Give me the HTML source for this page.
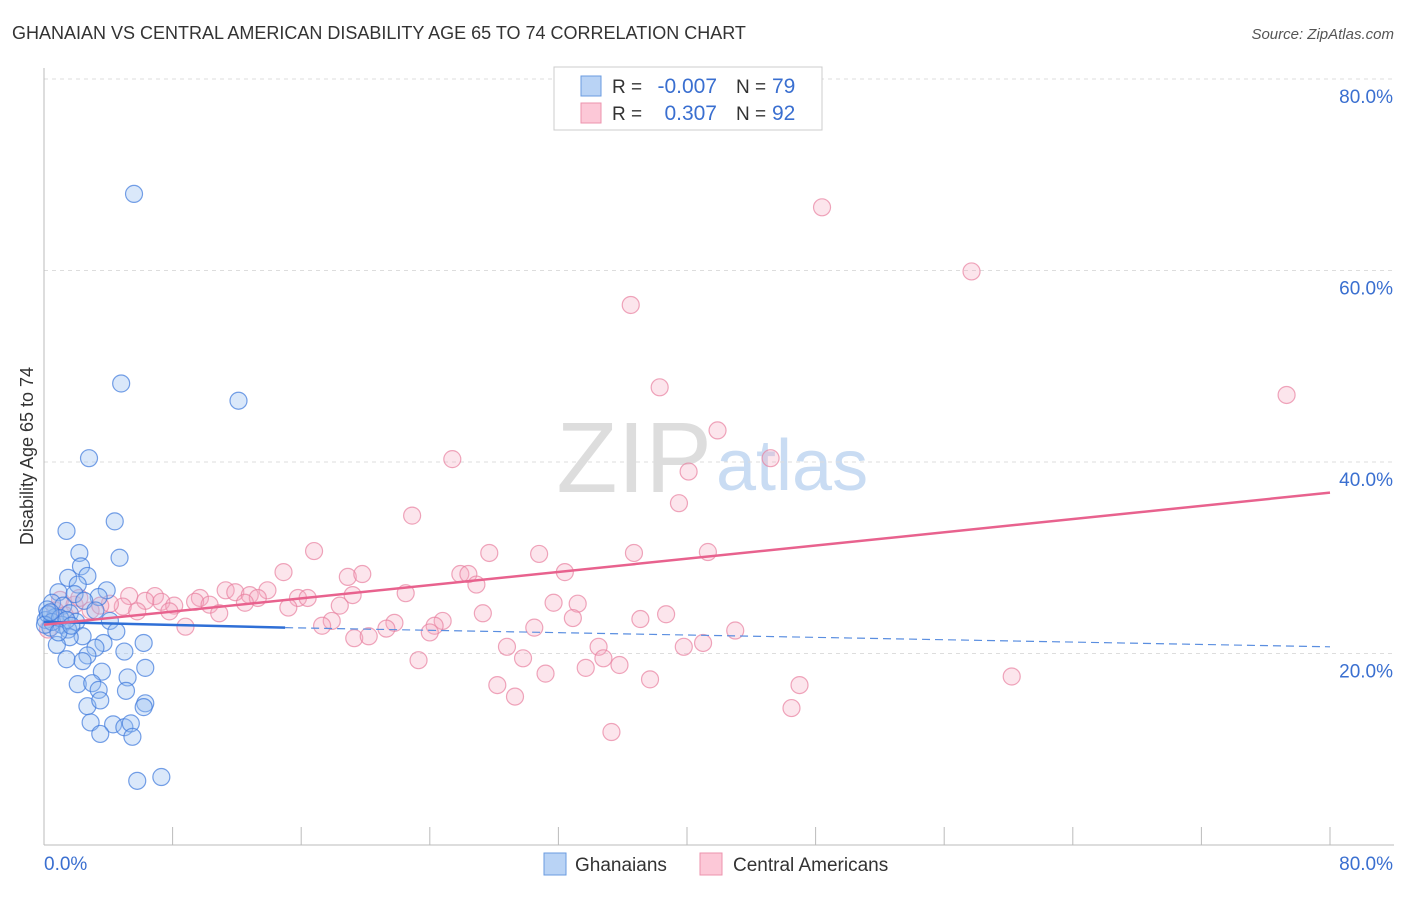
<!DOCTYPE html>
<html><head><meta charset="utf-8"><style>
body{margin:0;background:#fff;font-family:"Liberation Sans",sans-serif}
svg text{font-family:"Liberation Sans",sans-serif}
</style></head><body>
<svg id="chart" width="1406" height="892" xmlns="http://www.w3.org/2000/svg">
<text x="12" y="39" font-size="18" fill="#333">GHANAIAN VS CENTRAL AMERICAN DISABILITY AGE 65 TO 74 CORRELATION CHART</text>
<text x="1394" y="39" font-size="15" fill="#555" font-style="italic" text-anchor="end">Source: ZipAtlas.com</text>
<text x="33" y="456" font-size="18" fill="#333" text-anchor="middle" transform="rotate(-90 33 456)">Disability Age 65 to 74</text>
<text x="712" y="492" font-size="100" fill="#ddd" text-anchor="end" font-family="Liberation Serif">ZIP</text>
<text x="716" y="490" font-size="72" fill="#c9dcf3">atlas</text>
<g id="grid"></g><g id="axes"></g><g id="pts"></g><g id="lines"></g>
<g>
<rect x="554" y="67" width="268" height="63" fill="#fff" stroke="#ccc"/>
<rect x="581" y="76" width="20" height="20" fill="#b9d3f5" stroke="#6a9be0"/>
<rect x="581" y="103" width="20" height="20" fill="#fcc8d7" stroke="#ec93ae"/>
<text x="612" y="93" font-size="19" fill="#333">R =</text>
<text x="717" y="93" font-size="21" fill="#3a6fd0" text-anchor="end">-0.007</text>
<text x="736" y="93" font-size="19" fill="#333">N =</text>
<text x="772" y="93" font-size="21" fill="#3a6fd0">79</text>
<text x="612" y="120" font-size="19" fill="#333">R =</text>
<text x="717" y="120" font-size="21" fill="#3a6fd0" text-anchor="end">0.307</text>
<text x="736" y="120" font-size="19" fill="#333">N =</text>
<text x="772" y="120" font-size="21" fill="#3a6fd0">92</text>
</g>
<g>
<rect x="544" y="853" width="22" height="22" fill="#b9d3f5" stroke="#6a9be0"/>
<text x="575" y="871" font-size="19" fill="#333">Ghanaians</text>
<rect x="700" y="853" width="22" height="22" fill="#fcc8d7" stroke="#ec93ae"/>
<text x="733" y="871" font-size="19" fill="#333">Central Americans</text>
</g>
</svg>
<script>
const blueX=[5.6,4.8,12.1,2.8,4.4,1.4,4.7,2.2,2.3,1.5,2.7,2.1,3.9,0.9,1.9,3.4,2.5,0.5,1.2,0.2,3.2,1.6,0.7,0.1,2.0,1.1,4.1,0.4,1.5,4.5,2.4,1.6,6.2,0.8,3.7,3.2,5.0,2.7,1.4,2.4,6.3,3.6,5.2,2.1,3.0,3.4,5.1,2.7,6.3,6.2,3.5,2.9,4.3,5.0,5.4,3.5,5.5,5.8,7.3,0.25,0.5,1.0,0.06,1.4,0.9,1.7,0.4];
const blueY=[68.0,48.2,46.4,40.4,33.8,32.8,30.0,30.5,29.1,27.9,28.1,27.2,26.6,26.4,26.2,25.9,25.5,25.3,25.0,24.6,24.5,24.2,23.8,23.5,23.3,23.0,23.4,22.7,22.5,22.3,21.8,21.7,21.1,20.9,21.1,20.6,20.2,19.8,19.4,19.2,18.5,18.1,17.5,16.8,16.9,16.2,16.1,14.5,14.8,14.4,15.1,12.8,12.6,12.3,12.7,11.6,11.3,6.7,7.1,24.1,23.3,23.7,23.0,23.5,22.2,22.9,24.3];
const pinkX=[48.4,57.7,36.5,77.3,38.3,41.9,25.4,45.2,40.1,39.5,22.9,16.8,27.7,30.8,36.7,41.3,14.9,18.9,19.8,25.9,26.4,32.4,26.9,22.5,19.2,11.3,11.9,13.9,12.8,5.3,6.9,9.7,13.3,15.8,16.4,6.3,7.3,9.4,10.3,12.5,8.1,4.9,4.1,15.2,18.4,31.7,33.2,5.8,7.8,10.9,27.3,38.7,32.9,37.1,17.9,21.8,24.8,17.3,24.3,21.3,30.5,8.8,24.0,43.0,19.3,20.2,28.8,34.5,39.8,41.0,34.8,29.8,23.3,35.8,33.7,31.2,37.7,60.2,28.2,47.0,29.3,46.5,35.3,1.0,1.9,2.9,0.7,3.5,1.3,0.25,2.2];
const pinkY=[66.6,59.9,56.4,47.0,47.8,43.3,40.3,40.4,39.0,35.7,34.4,30.7,30.5,30.4,30.5,30.6,28.5,28.0,28.3,28.3,28.3,28.5,27.2,26.3,26.1,26.6,26.4,26.6,26.1,26.0,26.0,25.8,25.8,25.8,25.8,25.5,25.4,25.4,25.1,25.3,25.0,24.9,25.2,24.8,25.0,25.3,25.2,24.4,24.4,24.2,24.2,24.1,23.7,23.6,23.4,23.2,23.4,22.9,22.9,22.6,22.7,22.8,22.2,22.4,21.6,21.8,20.7,20.7,20.7,21.1,19.5,19.5,19.3,18.8,18.5,17.9,17.3,17.6,16.7,16.7,15.5,14.3,11.8,25.6,25.1,24.5,24.5,25.0,24.0,22.5,25.8];
const blueTrend=[23.3,22.7,20.7]; // at x=0,15,80
const pinkTrend=[23.0,36.8]; // at x=0,80
const yTicks=[20,40,60,80];
const NS="http://www.w3.org/2000/svg";
const sx=v=>44+v*16.075, sy=v=>845-v*9.575;
function mk(tag,a,p){const e=document.createElementNS(NS,tag);for(const k in a)e.setAttribute(k,a[k]);p.appendChild(e);return e;}
const grid=document.getElementById('grid'),axes=document.getElementById('axes'),pts=document.getElementById('pts'),lines=document.getElementById('lines');
yTicks.forEach(t=>{
 const l=mk('line',{x1:44,x2:1394,y1:sy(t),y2:sy(t),stroke:'#ddd','stroke-dasharray':'4,4'},grid);
 
 
 const tx=mk('text',{x:1393,y:sy(t)+24,'font-size':19,fill:'#3a6fd0','text-anchor':'end'},axes);tx.textContent=t.toFixed(1)+'%';
 
 
});
mk('line',{x1:44,x2:44,y1:68,y2:845,stroke:'#bbb'},axes);
mk('line',{x1:44,x2:1394,y1:845,y2:845,stroke:'#bbb'},axes);
for(let i=1;i<=10;i++){const x=44+i*128.6;mk('line',{x1:x,x2:x,y1:827,y2:845,stroke:'#bbb'},axes);}
const x0=mk('text',{x:44,y:870,'font-size':19,fill:'#3a6fd0'},axes);x0.textContent='0.0%';


const x1=mk('text',{x:1393,y:870,'font-size':19,fill:'#3a6fd0','text-anchor':'end'},axes);x1.textContent='80.0%';


pinkX.forEach((v,i)=>{const c=mk('circle',{cx:sx(v),cy:sy(pinkY[i]),r:8.5,fill:'rgba(246,168,193,0.3)',stroke:'rgba(232,128,160,0.7)','stroke-width':1.2},pts);
 
 });
blueX.forEach((v,i)=>{const c=mk('circle',{cx:sx(v),cy:sy(blueY[i]),r:8.5,fill:'rgba(150,190,240,0.35)',stroke:'rgba(60,120,220,0.7)','stroke-width':1.2},pts);
 
 });
const b1=mk('line',{x1:sx(0),y1:sy(blueTrend[0]),x2:sx(15),y2:sy(blueTrend[1]),stroke:'#2f6fd6','stroke-width':2.5},lines);


const b2=mk('line',{x1:sx(15),y1:sy(blueTrend[1]),x2:sx(80),y2:sy(blueTrend[2]),stroke:'#5a8ee0','stroke-width':1.2,'stroke-dasharray':'8,5'},lines);


const p1=mk('line',{x1:sx(0),y1:sy(pinkTrend[0]),x2:sx(80),y2:sy(pinkTrend[1]),stroke:'#e8628e','stroke-width':2.5},lines);


</script>
</body></html>
